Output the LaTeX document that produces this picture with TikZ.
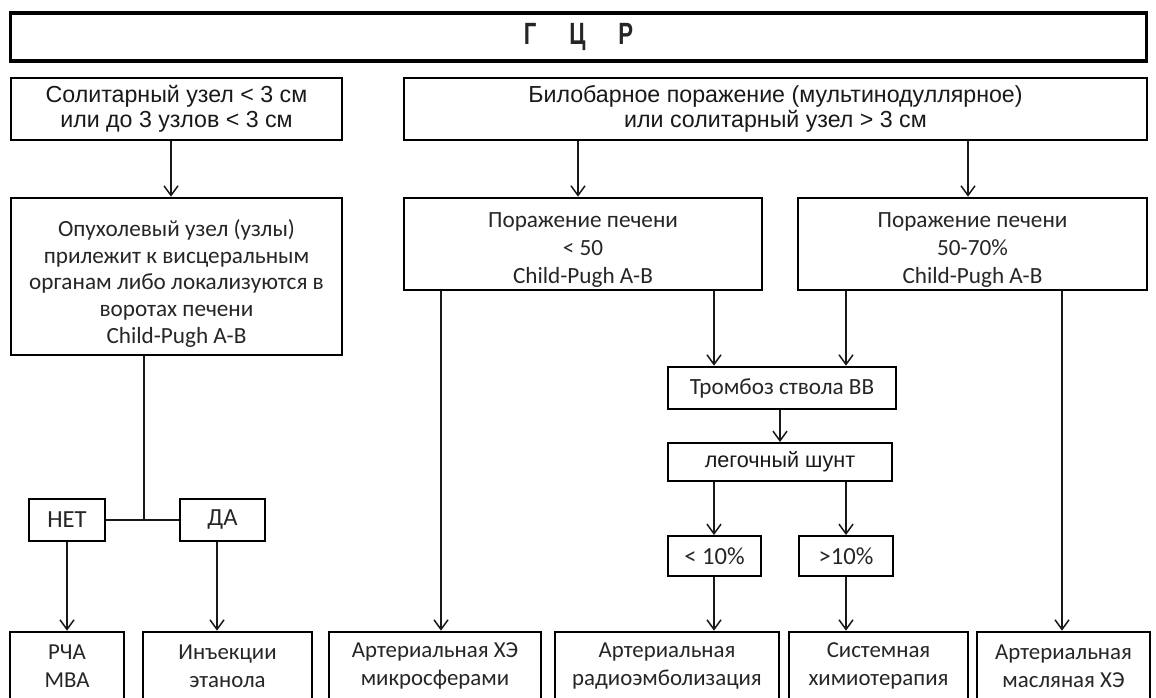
\documentclass[tikz,border=0pt]{standalone}
\usepackage{fontspec}
\usepackage{graphicx}
\setmainfont{Carlito}
\newfontfamily\arialf{Liberation Sans}
\usetikzlibrary{arrows.meta}
\begin{document}
\begin{tikzpicture}[x=0.02cm,y=-0.02cm,
  box/.style={draw=black, line width=1.5pt, align=center, inner sep=0pt,
    text=black!85, font=\fontsize{13.2}{15.2}\selectfont},
  txt/.style={align=center, inner sep=0pt, text=black!85, font=\fontsize{13.2}{15.2}\selectfont},
  abox/.style={box, text=black!90, font=\arialf\fontsize{13.2}{14}\selectfont},
  bbox/.style={box, font=\fontsize{13}{16}\selectfont},
  sbox/.style={box, line width=1.1pt},
  conn/.style={line width=0.85pt, draw=black!90},
  arr/.style={conn, -{Straight Barb[length=5.5pt,width=8pt,line width=0.85pt]}}]
\useasboundingbox (0,0) rectangle (1156,697);
\fill[white] (0,0) rectangle (1156,697);
% boxes
\node[box, line width=1.8pt, minimum width=22.74cm, minimum height=0.96cm] (title) at (578.5,37)
  {\arialf\bfseries\fontsize{17.5}{18}\selectfont\scalebox{0.72}[1]{Г\hspace{26pt}Ц\hspace{26pt}Р}};
\node[abox, minimum width=6.62cm, minimum height=1.24cm] (A) at (176.5,109)
  {Солитарный узел < 3 см\\или до 3 узлов < 3 см};
\node[abox, minimum width=14.86cm, minimum height=1.24cm] (B) at (775.5,109)
  {Билобарное поражение (мультинодуллярное)\\или солитарный узел > 3 см};
\node[box, minimum width=6.62cm, minimum height=3.14cm] (C) at (176.5,276.5) {};
\node[txt] (Ct) at ([yshift=-0.14cm]C.center)
  {Опухолевый узел (узлы)\\прилежит к висцеральным\\органам либо локализуются в\\воротах печени\\Child-Pugh A-B};
\node[box, minimum width=7.16cm, minimum height=1.84cm] (D) at (583,244) {};
\node[txt, font=\fontsize{13.2}{16}\selectfont] (Dt) at ([yshift=-0.12cm]D.center)
  {Поражение печени\\< 50\\Child-Pugh A-B};
\node[box, minimum width=6.98cm, minimum height=1.84cm] (E) at (972.5,244) {};
\node[txt, font=\fontsize{13.2}{16}\selectfont] (Et) at ([yshift=-0.12cm]E.center)
  {Поражение печени\\50-70\%\\Child-Pugh A-B};
\node[box, minimum width=4.56cm, minimum height=0.84cm] (T) at (782,388)
  {Тромбоз ствола ВВ};
\node[abox, line width=1.1pt, minimum width=4.48cm, minimum height=0.76cm] (L) at (780,462)
  {\fontsize{12.3}{13}\selectfont легочный шунт};
\node[sbox, minimum width=1.86cm, minimum height=0.8cm] (P1) at (714.5,556)
  {\fontsize{14}{15}\selectfont < 10\%};
\node[sbox, minimum width=1.88cm, minimum height=0.8cm] (P2) at (846,556)
  {\fontsize{14}{15}\selectfont >10\%};
\node[box, minimum width=1.52cm, minimum height=0.84cm] (N) at (67,520) {\fontsize{14}{15}\selectfont НЕТ};
\node[box, minimum width=1.7cm, minimum height=0.84cm] (Y) at (222.5,520) {\fontsize{14}{15}\selectfont ДА};
\node[bbox, minimum width=2.28cm, minimum height=1.36cm] (R1) at (67,666) {РЧА\\МВА};
\node[bbox, minimum width=3.38cm, minimum height=1.36cm] (R2) at (227.5,666) {Инъекции\\этанола};
\node[bbox, minimum width=4.24cm, minimum height=1.36cm] (R3) at (435,666) {Артериальная ХЭ\\микросферами};
\node[bbox, minimum width=4.48cm, minimum height=1.36cm] (R4) at (667,666) {Артериальная\\радиоэмболизация};
\node[bbox, minimum width=3.58cm, minimum height=1.36cm] (R5) at (878.5,666) {Системная\\химиотерапия};
\node[bbox, minimum width=3.46cm, minimum height=1.36cm] (R6) at (1063.5,666) {Артериальная\\масляная ХЭ};
% connector columns
\coordinate (xa) at (171,0);
\coordinate (xb) at (144,0);
\coordinate (xy) at (217,0);
\coordinate (xd) at (578,0);
\coordinate (xe) at (968,0);
\coordinate (xm) at (441,0);
\coordinate (xl) at (714,0);
\coordinate (xr) at (846,0);
\coordinate (xt) at (780,0);
\coordinate (xo) at (1062,0);
\coordinate (yj) at (0,519);
% connectors
\draw[arr] (xa |- A.south) -- (xa |- C.north);
\draw[conn] (xb |- C.south) -- (xb |- yj);
\draw[conn] (N.east) -- (Y.west);
\draw[arr] (N.south) -- (R1.north);
\draw[arr] (xy |- Y.south) -- (xy |- R2.north);
\draw[arr] (xd |- B.south) -- (xd |- D.north);
\draw[arr] (xe |- B.south) -- (xe |- E.north);
\draw[arr] (xm |- D.south) -- (xm |- R3.north);
\draw[arr] (xl |- D.south) -- (xl |- T.north);
\draw[arr] (xr |- E.south) -- (xr |- T.north);
\draw[arr] (xo |- E.south) -- (xo |- R6.north);
\draw[arr] (xt |- T.south) -- (xt |- L.north);
\draw[arr] (xl |- L.south) -- (xl |- P1.north);
\draw[arr] (xr |- L.south) -- (xr |- P2.north);
\draw[arr] (xl |- P1.south) -- (xl |- R4.north);
\draw[arr] (xr |- P2.south) -- (xr |- R5.north);
\end{tikzpicture}
\end{document}
